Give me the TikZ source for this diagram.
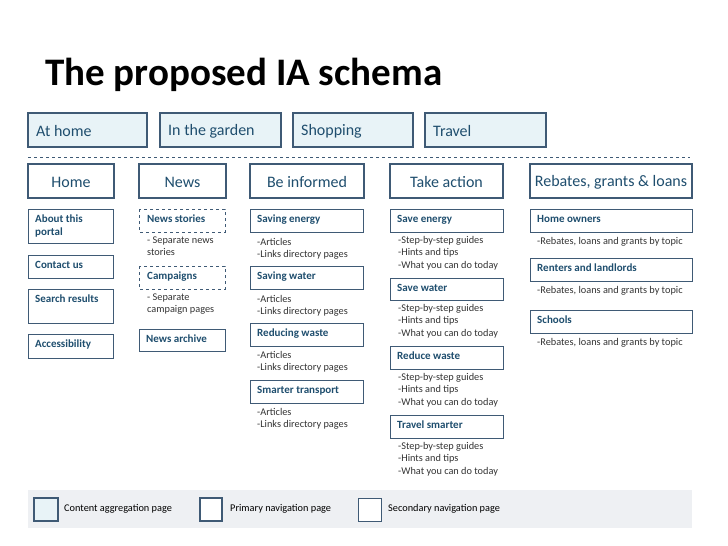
\documentclass[tikz,border=0pt]{standalone}
\usepackage{fontspec}
\setmainfont{Carlito}
\usetikzlibrary{positioning}
\definecolor{frame}{HTML}{3F5A75}
\definecolor{ink}{HTML}{1F4E6E}
\definecolor{pale}{HTML}{E8F3F7}
\definecolor{band}{HTML}{EEF0F3}
\tikzset{
  aggr/.style = {draw=frame, line width=2pt, fill=pale},
  prim/.style = {draw=frame, line width=2pt, fill=white},
  sec/.style = {draw=frame, line width=1pt, fill=white},
  note/.style = {anchor=north west, align=left, font=\fontsize{10.3}{12}\selectfont, text=black!80, inner sep=0pt},
  label/.style = {anchor=north west, align=left, inner sep=0pt, text=ink, font=\fontsize{11}{13}\bfseries\selectfont},
}
\begin{document}
\begin{tikzpicture}[x=1pt, y=-1pt]
\useasboundingbox (0,0) rectangle (728,546);

\node[anchor=base west, inner sep=0pt, font=\fontsize{39}{42}\bfseries\selectfont] (title) at (45,85) {The proposed IA schema};

% top row
\foreach \xa/\xb/\txt [count=\i] in {28/147/At home, 160/281/In the garden, 293/413/Shopping, 425/546/Travel}{
  \draw[aggr] (\xa,113) rectangle (\xb,147);
  \node[anchor=west, inner sep=0pt, text=ink, font=\fontsize{16}{18}\selectfont] (top\i) at (\xa+8,131) {\txt};
}
\draw[dashed, frame, line width=0.8pt] (28,157) -- (690,157);

% primary row
\foreach \xa/\xb/\txt [count=\i] in {28/114/Home, 139/226/News, 250/364/Be informed, 390/503/Take action, 530/692/{Rebates, grants \& loans}}{
  \draw[prim] (\xa,164) rectangle (\xb,198);
  \node[text=ink, font=\fontsize{16}{18}\selectfont] (prim\i) at ({(\xa+\xb)/2},182) {\txt};
}

% secondary boxes
\foreach \xa/\xb/\ya/\yb/\txt [count=\i] in {
  28/113/209/243/{About this\\portal}, 28/113/255/278/Contact us, 28/113/289/323/Search results, 28/113/334/358/Accessibility,
  139/225/329/351/News archive,
  250/363/209/232/Saving energy, 250/363/266/289/Saving water, 250/363/323/346/Reducing waste, 250/363/380/403/Smarter transport,
  390/503/209/232/Save energy, 390/503/278/300/Save water, 390/503/346/369/Reduce waste, 390/503/415/438/Travel smarter,
  530/692/209/232/Home owners, 530/692/258/281/Renters and landlords, 530/692/310/333/Schools}{
  \draw[sec] (\xa,\ya) rectangle (\xb,\yb);
  \node[label] (sec\i) at (\xa+7,\ya+6) {\txt};
}
\foreach \ya/\yb/\txt [count=\i] in {209/232/News stories, 266/289/Campaigns}{
  \draw[frame, dashed, line width=0.8pt] (139,\ya) rectangle (225,\yb);
  \node[label] (dash\i) at (147,\ya+6) {\txt};
}

% notes
\node[note] (n1) at (147,237) {- Separate news\\stories};
\node[note] (n2) at (147,294) {- Separate\\campaign pages};
\foreach \y [count=\i] in {238,295,351,408}
  \node[note] (inf\i) at (257,\y) {-Articles\\-Links directory pages};
\foreach \y [count=\i] in {236,304,373,442}
  \node[note, font=\fontsize{10.3}{12.5}\selectfont] (act\i) at (398,\y) {-Step-by-step guides\\-Hints and tips\\-What you can do today};
\foreach \y [count=\i] in {237,286,338}
  \node[note] (reb\i) at (537,\y) {-Rebates, loans and grants by topic};

% legend
\fill[band] (28,490) rectangle (692,528);
\draw[aggr] (34,498) rectangle (58,521);
\node[anchor=west, inner sep=0pt, font=\fontsize{10.3}{12}\selectfont] (leg1) at (64,509) {Content aggregation page};
\draw[prim] (200,498) rectangle (222,521);
\node[anchor=west, inner sep=0pt, font=\fontsize{10.3}{12}\selectfont] (leg2) at (230,509) {Primary navigation page};
\draw[sec] (358,498) rectangle (381,521);
\node[anchor=west, inner sep=0pt, font=\fontsize{10.3}{12}\selectfont] (leg3) at (388,509) {Secondary navigation page};
\end{tikzpicture}
\end{document}
